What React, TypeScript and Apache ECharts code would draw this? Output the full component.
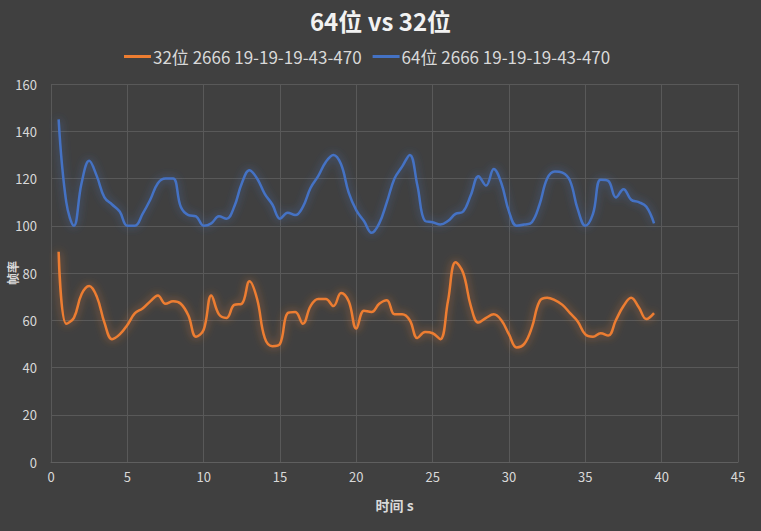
import React, { useEffect, useRef } from "react";
import * as echarts from "echarts";

const times = [
  0.5, 1, 1.5, 2, 2.5, 3, 3.5, 4, 4.5, 5, 5.5, 6, 6.5, 7, 7.5, 8, 8.5, 9, 9.5, 10,
  10.5, 11, 11.5, 12, 12.5, 13, 13.5, 14, 14.5, 15, 15.5, 16, 16.5, 17, 17.5, 18, 18.5, 19, 19.5, 20,
  20.5, 21, 21.5, 22, 22.5, 23, 23.5, 24, 24.5, 25, 25.5, 26, 26.5, 27, 27.5, 28, 28.5, 29, 29.5, 30,
  30.5, 31, 31.5, 32, 32.5, 33, 33.5, 34, 34.5, 35, 35.5, 36, 36.5, 37, 37.5, 38, 38.5, 39, 39.5,
];

const fps64 = [
  145, 110, 100, 118, 127.5, 121, 112, 109, 106, 100, 100, 105, 111, 118, 120, 120, 108, 104.5, 104, 100,
  101, 104, 103, 108, 118, 123.5, 120, 113.5, 109, 103, 105.5, 104.5, 108, 116, 121, 127, 130, 126, 114, 106.5,
  102, 97, 101, 110, 120, 125, 130, 117, 102, 101.5, 100.5, 102, 105, 106, 113, 121, 117, 124, 118, 106,
  100, 100.5, 101.5, 109, 120, 123, 122.5, 119, 107, 100, 105, 119.5, 119, 112, 115.5, 111, 110, 108, 101,
];

const fps32 = [
  89, 58.5, 61, 71, 74.5, 70, 59, 52, 54, 58, 63, 65, 68, 70.5, 67, 68, 67, 62, 53, 56,
  70.5, 62.5, 61, 66.5, 67, 76.5, 69, 52.5, 49, 50, 63, 63.5, 58.5, 66, 69, 69, 66, 71.5, 68, 56.5,
  64, 63.5, 67, 68.5, 62.5, 62.5, 60, 52.5, 55, 54.5, 52, 68, 84.5, 80, 66, 59, 61, 62.5, 60, 54,
  48.5, 50, 57, 68, 69.5, 68.5, 66.5, 63, 59.5, 54, 53, 54.5, 53.5, 60, 66, 69.5, 65.5, 60.5, 63,
];

const seriesNames = ["32位 2666 19-19-19-43-470", "64位 2666 19-19-19-43-470"];

export default function App() {
  const ref = useRef<HTMLDivElement>(null);
  useEffect(() => {
    document.body.style.margin = "0";
    document.body.style.background = "#404040";
    if (!ref.current) return;
    const chart = echarts.init(ref.current, undefined, { renderer: "svg" });
    const font = "'Noto Sans CJK SC', 'Noto Sans', sans-serif";
    chart.setOption({
      animation: false,
      backgroundColor: "#404040",
      textStyle: { fontFamily: font },
      title: {
        text: "64位 vs 32位",
        left: "center",
        top: 3,
        textStyle: { color: "#f2f2f2", fontSize: 24, fontWeight: "bold", fontFamily: font },
      },
      legend: {
        top: 43,
        left: 119,
        itemWidth: 27,
        itemHeight: 3,
        itemGap: 11,
        icon: "rect",
        textStyle: { color: "#d9d9d9", fontSize: 17, fontFamily: font, padding: [0, 0, 0, -3] },
        data: seriesNames,
      },
      grid: { left: 51, right: 23, top: 84, bottom: 69, containLabel: false, outerBoundsMode: "none" },
      xAxis: {
        type: "value",
        min: 0,
        max: 45,
        interval: 5,
        name: "时间 s",
        nameLocation: "middle",
        nameGap: 36,
        nameTextStyle: { color: "#d9d9d9", fontSize: 14, fontWeight: "bold" },
        axisLine: { show: true, lineStyle: { color: "#5f5f5f" } },
        axisTick: { show: false },
        axisLabel: { color: "#d9d9d9", fontSize: 13 },
        splitLine: { show: true, lineStyle: { color: "#595959" } },
      },
      yAxis: {
        type: "value",
        min: 0,
        max: 160,
        interval: 20,
        name: "帧率",
        nameLocation: "middle",
        nameRotate: 90,
        nameGap: 33,
        nameMoveOverlap: false,
        nameTextStyle: { color: "#d9d9d9", fontSize: 12, fontWeight: "bold" },
        axisLine: { show: false },
        axisTick: { show: false },
        axisLabel: { color: "#d9d9d9", fontSize: 13, margin: 14 },
        splitLine: { show: true, lineStyle: { color: "#595959" } },
      },
      series: [
        {
          name: seriesNames[0],
          type: "line",
          smooth: 0.4,
          symbol: "none",
          color: "#ED7D31",
          lineStyle: { width: 2.5, color: "#ED7D31", shadowColor: "rgba(237,125,49,0.7)", shadowBlur: 8 },
          data: times.map((t, i) => [t, fps32[i]]),
        },
        {
          name: seriesNames[1],
          type: "line",
          smooth: 0.4,
          symbol: "none",
          color: "#4472C4",
          lineStyle: { width: 2.5, color: "#4472C4", shadowColor: "rgba(68,114,196,0.7)", shadowBlur: 8 },
          data: times.map((t, i) => [t, fps64[i]]),
        },
      ],
    });
    return () => chart.dispose();
  }, []);
  return <div ref={ref} style={{ width: 761, height: 531 }} />;
}
